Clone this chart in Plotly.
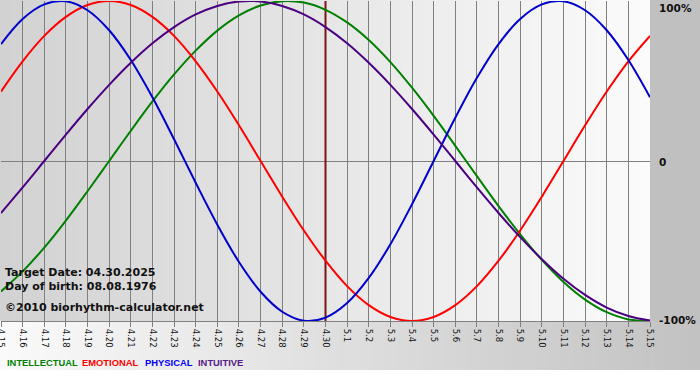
import plotly.graph_objects as go

# ---------------- data ----------------
dates = ["4.15", "4.16", "4.17", "4.18", "4.19", "4.20", "4.21", "4.22", "4.23", "4.24",
         "4.25", "4.26", "4.27", "4.28", "4.29", "4.30", "5.1", "5.2", "5.3", "5.4",
         "5.5", "5.6", "5.7", "5.8", "5.9", "5.10", "5.11", "5.12", "5.13", "5.14", "5.15"]

intellectual = [-81.5, -69.0, -54.1, -37.2, -18.9, 0.0, 18.9, 37.2, 54.1, 69.0, 81.5, 91.0,
                97.2, 99.9, 99.0, 94.5, 86.6, 75.6, 61.8, 45.8, 28.2, 9.5, -9.5, -28.2,
                -45.8, -61.8, -75.6, -86.6, -94.5, -99.0, -99.9]
emotional = [43.4, 62.3, 78.2, 90.1, 97.5, 100.0, 97.5, 90.1, 78.2, 62.3, 43.4, 22.3, 0.0,
             -22.3, -43.4, -62.3, -78.2, -90.1, -97.5, -100.0, -97.5, -90.1, -78.2, -62.3,
             -43.4, -22.3, 0.0, 22.3, 43.4, 62.3, 78.2]
physical = [73.1, 88.8, 97.9, 99.8, 94.2, 81.7, 63.1, 39.8, 13.6, -13.6, -39.8, -63.1, -81.7,
            -94.2, -99.8, -97.9, -88.8, -73.1, -52.0, -27.0, 0.0, 27.0, 52.0, 73.1, 88.8,
            97.9, 99.8, 94.2, 81.7, 63.1, 39.8]
intuitive = [-32.5, -16.5, 0.0, 16.5, 32.5, 47.6, 61.4, 73.6, 83.7, 91.6, 96.9, 99.7, 99.7,
             96.9, 91.6, 83.7, 73.6, 61.4, 47.6, 32.5, 16.5, 0.0, -16.5, -32.5, -47.6,
             -61.4, -73.6, -83.7, -91.6, -96.9, -99.7]

target_date = "4.30"
y_labels = ["100%", "0", "-100%"]
y_label_values = [100, 0, -100]
series_names = ["INTELLECTUAL", "EMOTIONAL", "PHYSICAL", "INTUITIVE"]
info_lines = ["Target Date: 04.30.2025", "Day of birth: 08.08.1976", "\u00a92010 biorhythm-calculator.net"]

# ---------------- styling ----------------
colors = {"INTELLECTUAL": "#008000", "EMOTIONAL": "#ff0000",
          "PHYSICAL": "#0000cc", "INTUITIVE": "#4b0082"}
legend_colors = {"INTELLECTUAL": "#008000", "EMOTIONAL": "#ff0000",
                 "PHYSICAL": "#0000ff", "INTUITIVE": "#551a8b"}
series_values = {"INTELLECTUAL": intellectual, "EMOTIONAL": emotional,
                 "PHYSICAL": physical, "INTUITIVE": intuitive}

W, H = 700, 380
ML, MR, MT, MB = 1, 50, 1, 59
PW = W - ML - MR
PH = H - MT - MB


def px_to_paper_x(px):
    return (px - ML) / PW


def px_to_paper_y(py):
    return (H - MB - py) / PH


def lerp_grey(a, b, t):
    v = int(round(a + (b - a) * t))
    return f"rgb({v},{v},{v})"


fig = go.Figure()

# target date marker
fig.add_trace(go.Scatter(x=[target_date, target_date], y=[-100, 100], mode="lines",
                         line=dict(color="#7b1515", width=2), hoverinfo="skip",
                         showlegend=False))

for name in series_names:
    fig.add_trace(go.Scatter(x=dates, y=series_values[name], mode="lines", name=name,
                             line=dict(color=colors[name], width=2, shape="spline"),
                             showlegend=False))

shapes = []
# plot area gradient (grey left -> white right)
n = 60
for i in range(n):
    shapes.append(dict(type="rect", xref="paper", yref="paper",
                       x0=i / n, x1=(i + 1) / n + 0.002, y0=0, y1=px_to_paper_y(-1),
                       fillcolor=lerp_grey(210, 251, (i + 0.5) / n),
                       line=dict(width=0), layer="below"))
# left sliver
shapes.append(dict(type="rect", xref="paper", yref="paper",
                   x0=px_to_paper_x(-2), x1=0.001, y0=0, y1=px_to_paper_y(-1),
                   fillcolor="rgb(210,210,210)", line=dict(width=0), layer="below"))
# right margin
shapes.append(dict(type="rect", xref="paper", yref="paper",
                   x0=1, x1=px_to_paper_x(W + 2), y0=0, y1=px_to_paper_y(-1),
                   fillcolor="rgb(192,192,192)", line=dict(width=0), layer="below"))
# bottom band gradient (white left -> grey right)
for i in range(n):
    x0p = -2 + (W + 4) * i / n
    x1p = -2 + (W + 4) * (i + 1) / n + 1
    shapes.append(dict(type="rect", xref="paper", yref="paper",
                       x0=px_to_paper_x(x0p), x1=px_to_paper_x(x1p),
                       y0=px_to_paper_y(370), y1=0,
                       fillcolor=lerp_grey(250, 194, (i + 0.5) / n),
                       line=dict(width=0), layer="below"))

annotations = []
# right side value labels
for txt, val in zip(y_labels, y_label_values):
    annotations.append(dict(xref="paper", yref="y", x=px_to_paper_x(657), y=val,
                            text=f"<b>{txt}</b>", showarrow=False, xanchor="left",
                            yanchor="middle", yshift=-7 if val == 100 else (1 if val == -100 else -1),
                            font=dict(family="DejaVu Sans", size=10.5, color="#111111")))
# info text
for txt, py in zip(info_lines, [272, 286, 307]):
    annotations.append(dict(xref="paper", yref="paper", x=px_to_paper_x(3), y=px_to_paper_y(py),
                            text=f"<b>{txt}</b>", showarrow=False, xanchor="left",
                            yanchor="middle",
                            font=dict(family="DejaVu Sans", size=11, color="#111111")))
# legend words
legend_x = [5, 80, 143, 196]
for name, lx in zip(series_names, legend_x):
    annotations.append(dict(xref="paper", yref="paper", x=px_to_paper_x(lx), y=px_to_paper_y(362),
                            text=f"<b>{name}</b>", showarrow=False, xanchor="left",
                            yanchor="middle",
                            font=dict(family="Liberation Sans", size=9.4,
                                      color=legend_colors[name])))

fig.update_layout(
    width=W, height=H,
    margin=dict(l=ML, r=MR, t=MT, b=MB, pad=0, autoexpand=False),
    paper_bgcolor="white",
    plot_bgcolor="rgba(0,0,0,0)",
    shapes=shapes,
    annotations=annotations,
    showlegend=False,
    xaxis=dict(type="category", categoryorder="array", categoryarray=dates,
               range=[0, 30], showgrid=True, gridcolor="#808080", gridwidth=1,
               showline=True, linecolor="#808080", linewidth=1,
               ticks="outside", ticklen=5, tickcolor="#808080", tickangle=90,
               tickfont=dict(family="DejaVu Sans", size=8.5, color="#111111"),
               zeroline=False, fixedrange=True, automargin=False),
    yaxis=dict(range=[-100, 100], showgrid=False, zeroline=True, zerolinecolor="#808080",
               zerolinewidth=1, showticklabels=False, ticks="", fixedrange=True,
               automargin=False),
)

fig.write_html("out.html", config={"displayModeBar": False},
               post_script="document.body.style.margin='0';document.body.style.padding='0';"
                           "document.body.style.overflow='hidden';")
